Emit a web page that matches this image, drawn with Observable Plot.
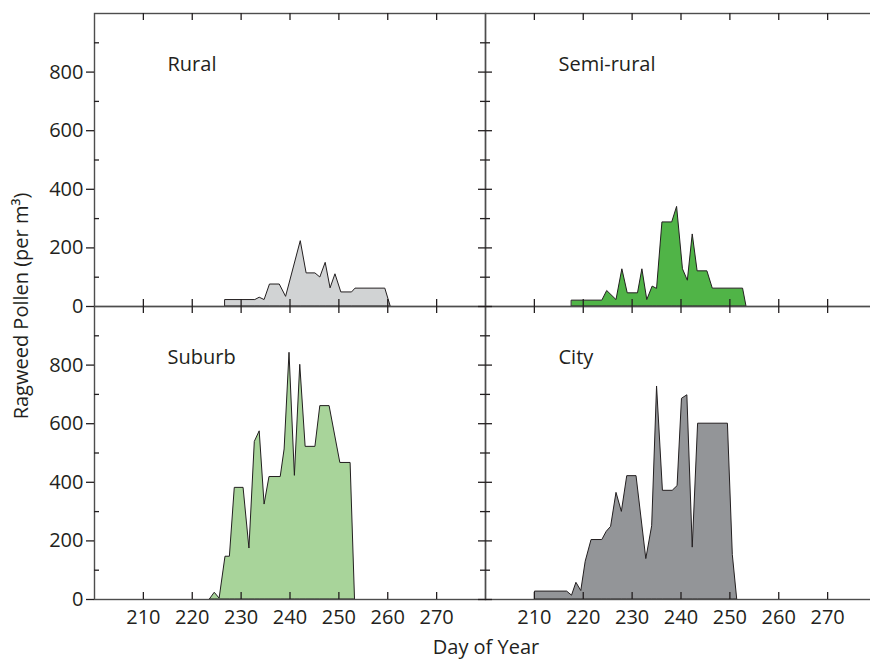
<!DOCTYPE html>
<html>
<head>
<meta charset="utf-8">
<script src="https://cdn.jsdelivr.net/npm/d3@7"></script>
<script src="https://cdn.jsdelivr.net/npm/@observablehq/plot@0.6"></script>
<style>
html, body { margin: 0; padding: 0; background: #fff; overflow: hidden; }
#wrap { position: relative; width: 870px; height: 659px; overflow: hidden; font-family: "Open Sans", sans-serif; color: #231f20; }
#wrap svg { max-width: none !important; display: block; }
.ylab { position: absolute; left: 21px; top: 306px; transform: translate(-50%, -50%) rotate(-90deg); font-size: 20px; line-height: 1; white-space: nowrap; }
.xlab { position: absolute; left: 486px; top: 647px; transform: translate(-50%, -50%); font-size: 20px; line-height: 1; white-space: nowrap; }
</style>
</head>
<body>
<div id="wrap">
  <div class="ylab">Ragweed Pollen (per m³)</div>
  <div class="xlab">Day of Year</div>
</div>
<script>
// ---- data ----
const sites = ["Rural", "Semi-rural", "Suburb", "City"];
const siteCol = ["left", "right", "left", "right"];
const siteRow = ["top", "top", "bottom", "bottom"];

const ruralDay    = [226.8, 232.9, 233.8, 234.8, 235.9, 237.9, 239.2, 242.2, 243.4, 245.2, 246.2, 247.3, 248.3, 249.3, 250.5, 252.7, 253.4, 259.5, 260.6];
const ruralPollen = [22, 22, 30, 22, 75, 75, 33, 223, 113, 113, 99, 149, 62, 110, 48, 48, 61, 61, 0];

const semiDay    = [217.7, 223.9, 224.9, 226.8, 228.0, 229.1, 231.2, 232.1, 233.1, 234.2, 235.1, 236.2, 238.2, 239.2, 240.4, 241.4, 242.4, 243.4, 245.4, 246.5, 252.7, 253.4];
const semiPollen = [20, 20, 53, 22, 127, 45, 45, 127, 22, 68, 60, 287, 287, 340, 127, 88, 246, 120, 120, 61, 61, 0];

const suburbDay    = [223.6, 224.6, 225.6, 226.8, 227.7, 228.7, 230.5, 231.7, 232.8, 233.8, 234.8, 235.8, 238.1, 238.9, 239.9, 241.0, 242.1, 243.2, 245.2, 246.2, 248.1, 250.3, 252.4, 253.3];
const suburbPollen = [0, 23, 3, 146, 146, 381, 381, 174, 538, 574, 324, 418, 418, 512, 842, 422, 801, 521, 521, 660, 660, 466, 466, 0];

const cityDay    = [210.2, 216.7, 217.7, 218.6, 219.6, 220.5, 221.7, 223.9, 224.8, 225.7, 226.8, 227.9, 229.0, 230.9, 232.9, 234.1, 235.1, 236.3, 238.3, 239.3, 240.2, 241.3, 242.4, 243.5, 249.6, 250.6, 251.5];
const cityPollen = [27, 27, 13, 57, 29, 129, 203, 203, 231, 248, 364, 299, 421, 421, 138, 250, 727, 371, 371, 387, 685, 697, 177, 600, 600, 152, 0];

const xTicks = [210, 220, 230, 240, 250, 260, 270];
const yMajor = [0, 200, 400, 600, 800];
const yMinor = [100, 300, 500, 700, 900];

// ---- styles ----
const siteFills = ["#d1d3d4", "#50b447", "#a8d49a", "#939598"];
const ink = "#231f20";
const frameColor = "#4d4d4d";

// ---- table ----
const seriesDays = [ruralDay, semiDay, suburbDay, cityDay];
const seriesVals = [ruralPollen, semiPollen, suburbPollen, cityPollen];
const rows = [];
sites.forEach((s, k) => {
  seriesDays[k].forEach((d, i) => rows.push({site: s, col: siteCol[k], row: siteRow[k], day: d, pollen: seriesVals[k][i]}));
});

const W = 876, H = 659, mL = 94, mR = 0, mT = 13, mB = 60;
const fw = (W - mL - mR) / 2, fh = (H - mT - mB) / 2;

const chart = Plot.plot({
  width: W, height: H,
  marginLeft: mL, marginRight: mR, marginTop: mT, marginBottom: mB,
  style: {fontFamily: '"Open Sans", sans-serif', fontSize: "20px", color: ink, background: "white", maxWidth: "none"},
  x: {domain: [200, 280]},
  y: {domain: [0, 1000]},
  fx: {domain: ["left", "right"], padding: 0, axis: null},
  fy: {domain: ["top", "bottom"], padding: 0, axis: null},
  color: {domain: sites, range: siteFills},
  marks: [
    Plot.areaY(rows, {x: "day", y: "pollen", fx: "col", fy: "row", fill: "site", z: "site", stroke: ink, strokeWidth: 1, strokeLinejoin: "miter"}),
    Plot.frame({stroke: frameColor, strokeWidth: 1.4}),
    Plot.tickX(xTicks, {x: d => d, insetTop: fh - 7, stroke: ink, strokeWidth: 1.3}),
    Plot.tickX(xTicks, {x: d => d, insetBottom: fh - 7, stroke: ink, strokeWidth: 1.3}),
    Plot.tickY(yMinor, {y: d => d, insetRight: fw - 5, stroke: ink, strokeWidth: 1.3}),
    Plot.tickY(yMinor, {y: d => d, fx: () => "left", insetLeft: fw - 5, stroke: ink, strokeWidth: 1.3}),
    Plot.tickY(yMajor, {y: d => d, fx: () => "left", insetLeft: fw - 7, stroke: ink, strokeWidth: 1.3}),
    Plot.tickY(yMajor, {y: d => d, fx: () => "right", insetRight: fw - 7, stroke: ink, strokeWidth: 1.3}),
    Plot.axisY(yMajor, {tickSize: 8, tickPadding: 3, fontSize: 20, label: null, strokeWidth: 1.3}),
    Plot.axisX(xTicks, {tickSize: 0, tickPadding: 10, fontSize: 20, label: null}),
    Plot.text(sites, {text: d => d, fx: (d, i) => siteCol[i], fy: (d, i) => siteRow[i], frameAnchor: "top-left", dx: 73, dy: 51, textAnchor: "start", lineAnchor: "middle", fontSize: 20, fill: ink})
  ]
});
document.getElementById("wrap").prepend(chart);
</script>
</body>
</html>
